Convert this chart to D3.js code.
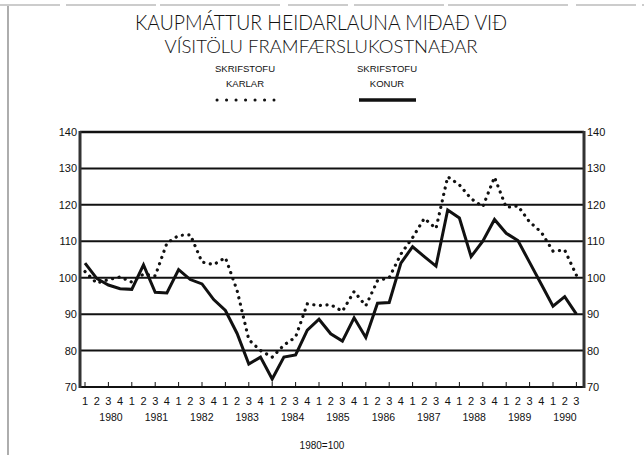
<!DOCTYPE html>
<html>
<head>
<meta charset="utf-8">
<script src="https://cdn.jsdelivr.net/npm/d3@7"></script>
<style>
  body { margin: 0; background: #fff; }
  text { font-family: "Liberation Sans", Arial, sans-serif; fill: #111; }
  .title { font-family: Lato, "Open Sans", "Liberation Sans", sans-serif; font-weight: 300; }
</style>
</head>
<body>
<svg id="chart"></svg>
<script>
// quarters 1980 Q1 .. 1990 Q3
const years = ['1980','1981','1982','1983','1984','1985','1986','1987','1988','1989','1990'];
const quarterLabels = years.flatMap(function(y){ return y === '1990' ? ['1','2','3'] : ['1','2','3','4']; });
const yTicks = [70, 80, 90, 100, 110, 120, 130, 140];

// skrifstofu karlar (dotted)
const karlar = [101.7, 98.5, 99.5, 100.2, 98.8, 101.0, 100.5, 109.5, 111.6, 111.8,
  104.3, 103.6, 105.5, 96.5, 83.0, 80.0, 78.2, 81.5, 83.7, 92.8,
  92.4, 92.6, 90.8, 96.2, 92.3, 99.2, 100.0, 106.5, 111.0, 116.3,
  113.5, 127.7, 125.5, 121.7, 119.5, 127.6, 119.3, 119.7, 115.3, 112.5,
  107.3, 107.6, 100.7];

// skrifstofu konur (solid)
const konur = [104.0, 99.8, 98.0, 97.0, 96.8, 103.5, 96.0, 95.8, 102.2, 99.5,
  98.3, 94.0, 91.0, 84.7, 76.3, 78.2, 72.2, 78.2, 78.8, 85.6,
  88.6, 84.6, 82.6, 89.0, 83.6, 93.0, 93.2, 104.0, 108.5, 105.8,
  103.2, 118.6, 116.4, 105.8, 110.0, 116.0, 112.2, 110.2, 104.2, 98.2,
  92.2, 94.8, 90.0];

const w = 644, h = 455;
let svg = d3.select('#chart').attr('width', w).attr('height', h);

let plot = {left: 80, right: 584, top: 132, bottom: 387};

let xScale = d3.scaleLinear().domain([0, quarterLabels.length - 1]).range([85, 576.4]);
let yScale = d3.scaleLinear().domain([70, 140]).range([plot.bottom, plot.top]);
let yearScale = d3.scalePoint().domain(years).range([111, 565]);

// page border
svg.append('line')
  .attr('x1', 8).attr('x2', 8).attr('y1', 6).attr('y2', h)
  .attr('stroke', '#777').attr('stroke-width', 1.2);
svg.append('line')
  .attr('x1', 0).attr('x2', w).attr('y1', 5).attr('y2', 5)
  .attr('stroke', '#999').attr('stroke-width', 1)
  .attr('stroke-dasharray', '60 6 90 4 120 8');

// titles
svg.append('text')
  .attr('class', 'title')
  .attr('x', 321).attr('y', 30)
  .attr('text-anchor', 'middle')
  .attr('font-size', 21)
  .attr('textLength', 372).attr('lengthAdjust', 'spacingAndGlyphs')
  .text('KAUPMÁTTUR HEIDARLAUNA MIÐAÐ VIÐ');

svg.append('text')
  .attr('class', 'title')
  .attr('x', 321).attr('y', 53)
  .attr('text-anchor', 'middle')
  .attr('font-size', 18)
  .attr('textLength', 313).attr('lengthAdjust', 'spacingAndGlyphs')
  .text('VÍSITÖLU FRAMFÆRSLUKOSTNAÐAR');

// legend
let legend = [
  {label: ['SKRIFSTOFU', 'KARLAR'], cx: 245, dotted: true},
  {label: ['SKRIFSTOFU', 'KONUR'], cx: 387, dotted: false}
];
legend.forEach(function(d){
  d.label.forEach(function(t, i){
    svg.append('text')
      .attr('x', d.cx).attr('y', 72 + i * 15)
      .attr('text-anchor', 'middle')
      .attr('font-size', 9.5)
      .text(t);
  });
  let l = svg.append('line')
    .attr('x1', d.cx - 28).attr('x2', d.cx + 29)
    .attr('y1', 100).attr('y2', 100)
    .attr('stroke', '#111');
  if (d.dotted) {
    l.attr('stroke-width', 3).attr('stroke-linecap', 'round').attr('stroke-dasharray', '0.1 9.4');
  } else {
    l.attr('stroke-width', 3.5);
  }
});

// gridlines
svg.append('g').selectAll('line')
  .data(yTicks)
  .enter().append('line')
  .attr('x1', plot.left).attr('x2', plot.right)
  .attr('y1', function(d){ return yScale(d); })
  .attr('y2', function(d){ return yScale(d); })
  .attr('stroke', '#111')
  .attr('stroke-width', function(d){ return d === 140 ? 2.5 : 2; });

// left / right frame
[plot.left, plot.right].forEach(function(x){
  svg.append('line')
    .attr('x1', x).attr('x2', x)
    .attr('y1', plot.top - 1).attr('y2', plot.bottom + 1)
    .attr('stroke', '#333').attr('stroke-width', 3);
});

// bottom ticks (every half year)
svg.append('g').selectAll('line')
  .data(d3.range(0, quarterLabels.length, 2))
  .enter().append('line')
  .attr('x1', function(d){ return xScale(d); })
  .attr('x2', function(d){ return xScale(d); })
  .attr('y1', plot.bottom).attr('y2', plot.bottom - 5)
  .attr('stroke', '#111').attr('stroke-width', 1);

// y labels both sides
let yl = svg.append('g');
yl.selectAll('.yl').data(yTicks).enter().append('text')
  .attr('x', plot.left - 3)
  .attr('y', function(d){ return yScale(d) + 4; })
  .attr('text-anchor', 'end')
  .attr('font-size', 11)
  .text(function(d){ return d; });
yl.selectAll('.yr').data(yTicks).enter().append('text')
  .attr('x', plot.right + 3)
  .attr('y', function(d){ return yScale(d) + 4; })
  .attr('text-anchor', 'start')
  .attr('font-size', 11)
  .text(function(d){ return d; });

// quarter + year labels
svg.append('g').selectAll('text')
  .data(quarterLabels)
  .enter().append('text')
  .attr('x', function(d, i){ return xScale(i); })
  .attr('y', 405)
  .attr('text-anchor', 'middle')
  .attr('font-size', 11)
  .text(function(d){ return d; });

svg.append('g').selectAll('text')
  .data(years)
  .enter().append('text')
  .attr('x', function(d){ return yearScale(d); })
  .attr('y', 421)
  .attr('text-anchor', 'middle')
  .attr('font-size', 10.5)
  .text(function(d){ return d; });

svg.append('text')
  .attr('x', 322).attr('y', 449)
  .attr('text-anchor', 'middle')
  .attr('font-size', 10)
  .text('1980=100');

// series
let line = d3.line()
  .x(function(d, i){ return xScale(i); })
  .y(function(d){ return yScale(d); });

svg.append('path')
  .datum(karlar)
  .attr('d', line)
  .attr('fill', 'none')
  .attr('stroke', '#111')
  .attr('stroke-width', 3.2)
  .attr('stroke-linecap', 'round')
  .attr('stroke-dasharray', '0.1 6.5');

svg.append('path')
  .datum(konur)
  .attr('d', line)
  .attr('fill', 'none')
  .attr('stroke', '#111')
  .attr('stroke-width', 3)
  .attr('stroke-linejoin', 'miter');
</script>
</body>
</html>
